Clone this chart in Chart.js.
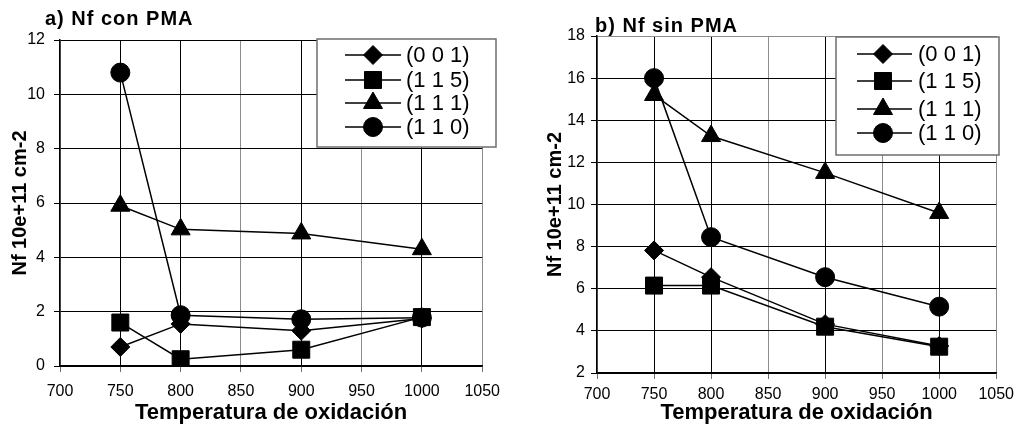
<!DOCTYPE html>
<html lang="es">
<head>
  <meta charset="UTF-8">
  <title>Nf con / sin PMA</title>
  <script src="https://cdn.jsdelivr.net/npm/chart.js"></script>
  <style>
    body { margin: 0; background: #fff; }
    .wrap { position: relative; width: 1020px; height: 428px; font-family: "Liberation Sans", Arial, sans-serif; }
    .panel { position: absolute; top: 0; width: 510px; height: 428px; }
    .panel canvas { position: absolute; left: 0; top: 0; }
    .ptitle { position: absolute; font-weight: bold; font-size: 20px; line-height: 20px; letter-spacing: 1px; color: #000; white-space: nowrap; }
  </style>
</head>
<body>
  <div class="wrap">
    <div class="panel" style="left:0">
      <canvas id="chartA" width="510" height="428"></canvas>
    </div>
    <div class="panel" style="left:510px">
      <canvas id="chartB" width="510" height="428"></canvas>
    </div>
    <div class="ptitle" style="left:45px; top:8px">a) Nf con PMA</div>
    <div class="ptitle" style="left:595px; top:15px">b) Nf sin PMA</div>
  </div>

  <script>
    // Data
    const temps = [750, 800, 900, 1000];
    const seriesLabels = ['(0 0 1)', '(1 1 5)', '(1 1 1)', '(1 1 0)'];
    const pointStyles = ['rectRot', 'rect', 'triangle', 'circle'];
    const pointSizes = [9.5, 12, 11, 9.5];

    // a) con PMA
    const conPMA001 = [0.7, 1.55, 1.3, 1.75];
    const conPMA115 = [1.6, 0.25, 0.6, 1.8];
    const conPMA111 = [5.9, 5.03, 4.88, 4.3];
    const conPMA110 = [10.8, 1.87, 1.72, 1.78];

    // b) sin PMA
    const sinPMA001 = [7.82, 6.55, 4.32, 3.28];
    const sinPMA115 = [6.15, 6.15, 4.2, 3.25];
    const sinPMA111 = [15.2, 13.25, 11.5, 9.6];
    const sinPMA110 = [16.0, 8.45, 6.55, 5.15];

    const xTicks = [700, 750, 800, 850, 900, 950, 1000, 1050];

    const FONT = '"Liberation Sans", Arial, sans-serif';

    // legend box drawn inside the plot, like the Excel original
    const boxLegend = {
      id: 'boxLegend',
      afterDraw(chart, args, opts) {
        const ctx = chart.ctx;
        ctx.save();
        ctx.fillStyle = '#fff';
        ctx.fillRect(opts.x, opts.y, opts.w, opts.h);
        ctx.strokeStyle = '#6e6e6e';
        ctx.lineWidth = 1.5;
        ctx.strokeRect(opts.x, opts.y, opts.w, opts.h);
        chart.data.datasets.forEach((ds, i) => {
          const y = opts.rows[i];
          ctx.strokeStyle = '#000';
          ctx.fillStyle = '#000';
          ctx.lineWidth = 1.5;
          ctx.beginPath();
          ctx.moveTo(opts.x + opts.lineFrom, y);
          ctx.lineTo(opts.x + opts.lineTo, y);
          ctx.stroke();
          ctx.lineWidth = 1;
          Chart.helpers.drawPoint(ctx, {
            pointStyle: ds.pointStyle,
            radius: ds.pointRadius,
            borderWidth: 1,
            rotation: 0
          }, opts.x + opts.marker, y);
          ctx.font = '22px ' + FONT;
          ctx.textBaseline = 'middle';
          ctx.textAlign = 'left';
          ctx.fillText(ds.label, opts.x + opts.text, y + 1);
        });
        ctx.restore();
      }
    };

    function makeDatasets(values) {
      return values.map((v, i) => ({
        label: seriesLabels[i],
        data: temps.map((t, j) => ({ x: t, y: v[j] })),
        borderColor: '#000',
        backgroundColor: '#000',
        borderWidth: 1.5,
        pointStyle: pointStyles[i],
        pointRadius: pointSizes[i],
        pointBorderWidth: 1,
        order: values.length - i
      }));
    }

    function makeChart(canvasId, values, cfg) {
      return new Chart(document.getElementById(canvasId), {
        type: 'line',
        data: { datasets: makeDatasets(values) },
        options: {
          responsive: false,
          animation: false,
          events: [],
          layout: { padding: { top: cfg.top, right: cfg.right, left: 0, bottom: 0 } },
          plugins: {
            legend: { display: false },
            tooltip: { enabled: false },
            boxLegend: cfg.legend
          },
          scales: {
            x: {
              type: 'linear',
              min: 700,
              max: 1050,
              afterBuildTicks: s => { s.ticks = xTicks.map(v => ({ value: v })); },
              afterFit: s => { s.height = cfg.xHeight; },
              ticks: {
                color: '#000', padding: cfg.xPad, maxRotation: 0,
                font: { family: FONT, size: 16 },
                callback: v => String(v)
              },
              grid: {
                color: c => temps.includes(c.tick.value) ? '#000' : '#8c8c8c',
                tickColor: '#6e6e6e',
                tickLength: 6,
                lineWidth: 1
              },
              border: { color: '#000', width: 1.5 },
              title: {
                display: true,
                text: 'Temperatura de oxidación',
                color: '#000',
                font: { family: FONT, size: 22, weight: 'bold' },
                padding: { top: 0, bottom: 2 }
              }
            },
            y: {
              min: cfg.yMin,
              max: cfg.yMax,
              afterFit: s => { s.width = cfg.yWidth; },
              ticks: { stepSize: 2, color: '#000', padding: cfg.yPad, font: { family: FONT, size: 16 } },
              grid: {
                color: c => (c.tick.value === cfg.yMax && cfg.topGray) ? '#8c8c8c' : '#000',
                tickColor: '#000',
                tickLength: 6,
                lineWidth: 1
              },
              border: { color: '#000', width: 1.5 },
              title: {
                display: true,
                text: 'Nf 10e+11 cm-2',
                color: '#000',
                font: { family: FONT, size: 20, weight: 'bold' },
                padding: { top: cfg.yTitlePad, bottom: 0 }
              }
            }
          }
        },
        plugins: [boxLegend]
      });
    }

    makeChart('chartA', [conPMA001, conPMA115, conPMA111, conPMA110], {
      top: 40, right: 18, xHeight: 62, yWidth: 60, xPad: 10, yPad: 9,
      yMin: 0, yMax: 12, yTitlePad: 8, topGray: false,
      legend: { x: 317, y: 39, w: 179, h: 108, rows: [55, 80, 103, 127], lineFrom: 28, lineTo: 84, marker: 56, text: 89 }
    });

    makeChart('chartB', [sinPMA001, sinPMA115, sinPMA111, sinPMA110], {
      top: 36, right: 21, xHeight: 55, yWidth: 87, xPad: 6, yPad: 6,
      yMin: 2, yMax: 18, yTitlePad: 33, topGray: true,
      legend: { x: 326, y: 37, w: 163, h: 118, rows: [54, 81, 109, 133], lineFrom: 21, lineTo: 76, marker: 47, text: 82 }
    });
  </script>
</body>
</html>
